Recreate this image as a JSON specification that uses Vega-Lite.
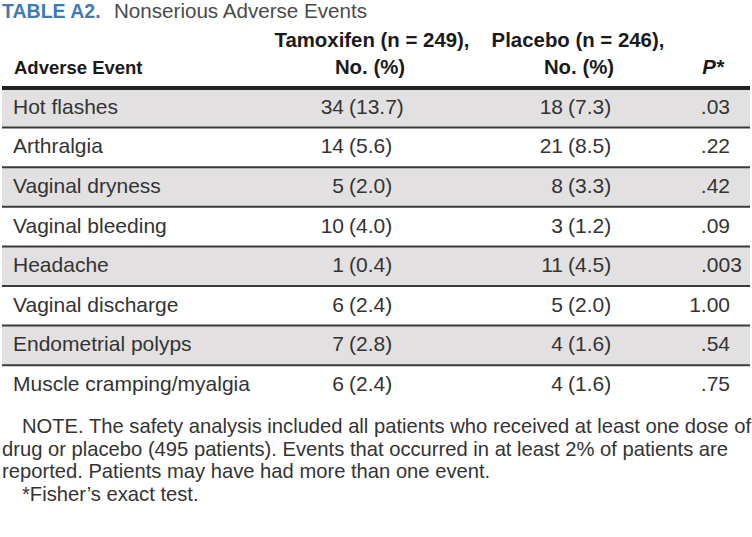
{
  "$schema": "https://vega.github.io/schema/vega-lite/v6.json",
  "width": 752,
  "height": 537,
  "padding": 0,
  "autosize": {"type": "fit", "contains": "padding"},
  "background": "white",
  "config": {"view": {"stroke": null}, "text": {"font": "Liberation Sans", "fontSize": 21, "color": "#333333", "baseline": "middle"}},
  "datasets": {
    "rows": [
      {"event": "Hot flashes", "tam_n": "34", "tam_pct": "(13.7)", "pla_n": "18", "pla_pct": "(7.3)", "p": ".03"},
      {"event": "Arthralgia", "tam_n": "14", "tam_pct": "(5.6)", "pla_n": "21", "pla_pct": "(8.5)", "p": ".22"},
      {"event": "Vaginal dryness", "tam_n": "5", "tam_pct": "(2.0)", "pla_n": "8", "pla_pct": "(3.3)", "p": ".42"},
      {"event": "Vaginal bleeding", "tam_n": "10", "tam_pct": "(4.0)", "pla_n": "3", "pla_pct": "(1.2)", "p": ".09"},
      {"event": "Headache", "tam_n": "1", "tam_pct": "(0.4)", "pla_n": "11", "pla_pct": "(4.5)", "p": ".003"},
      {"event": "Vaginal discharge", "tam_n": "6", "tam_pct": "(2.4)", "pla_n": "5", "pla_pct": "(2.0)", "p": "1.00"},
      {"event": "Endometrial polyps", "tam_n": "7", "tam_pct": "(2.8)", "pla_n": "4", "pla_pct": "(1.6)", "p": ".54"},
      {"event": "Muscle cramping/myalgia", "tam_n": "6", "tam_pct": "(2.4)", "pla_n": "4", "pla_pct": "(1.6)", "p": ".75"}
    ],
    "notes": [
      {"line": "note1", "text": "NOTE. The safety analysis included all patients who received at least one dose of"},
      {"line": "note2", "text": "drug or placebo (495 patients). Events that occurred in at least 2% of patients are"},
      {"line": "note3", "text": "reported. Patients may have had more than one event."},
      {"line": "note4", "text": "*Fisher’s exact test."}
    ]
  },
  "layer": [
    {
      "data": {"name": "rows"},
      "encoding": {
        "y": {"field": "event", "type": "nominal", "sort": null, "axis": null,
              "scale": {"type": "band", "domain": ["Hot flashes", "Arthralgia", "Vaginal dryness", "Vaginal bleeding", "Headache", "Vaginal discharge", "Endometrial polyps", "Muscle cramping/myalgia"], "range": [88, 404.8], "paddingInner": 0, "paddingOuter": 0}}
      },
      "layer": [
        {
          "transform": [{"filter": {"field": "event", "oneOf": ["Hot flashes", "Vaginal dryness", "Headache", "Endometrial polyps"]}}],
          "mark": {"type": "rect", "color": "#e2e0e1"}
        },
        {
          "transform": [{"filter": "datum.event !== 'Hot flashes'"}],
          "mark": {"type": "rule", "color": "#3a3a3a", "strokeWidth": 2},
          "encoding": {"y": {"field": "event", "type": "nominal", "bandPosition": 0}}
        },
        {
          "transform": [{"filter": "datum.event === 'Hot flashes'"}],
          "mark": {"type": "rule", "color": "#222222", "strokeWidth": 4},
          "encoding": {"y": {"field": "event", "type": "nominal", "bandPosition": 0}}
        },
        {
          "mark": {"type": "text", "align": "left", "x": 11},
          "encoding": {"y": {"field": "event", "type": "nominal", "bandPosition": 0.5}, "text": {"field": "event"}}
        },
        {
          "mark": {"type": "text", "align": "right", "x": 342},
          "encoding": {"y": {"field": "event", "type": "nominal", "bandPosition": 0.5}, "text": {"field": "tam_n"}}
        },
        {
          "mark": {"type": "text", "align": "left", "x": 347},
          "encoding": {"y": {"field": "event", "type": "nominal", "bandPosition": 0.5}, "text": {"field": "tam_pct"}}
        },
        {
          "mark": {"type": "text", "align": "right", "x": 561},
          "encoding": {"y": {"field": "event", "type": "nominal", "bandPosition": 0.5}, "text": {"field": "pla_n"}}
        },
        {
          "mark": {"type": "text", "align": "left", "x": 566},
          "encoding": {"y": {"field": "event", "type": "nominal", "bandPosition": 0.5}, "text": {"field": "pla_pct"}}
        },
        {
          "transform": [{"filter": "length(datum.p) - indexof(datum.p, '.') === 3"}],
          "mark": {"type": "text", "align": "right", "x": 728},
          "encoding": {"y": {"field": "event", "type": "nominal", "bandPosition": 0.5}, "text": {"field": "p"}}
        },
        {
          "transform": [{"filter": "length(datum.p) - indexof(datum.p, '.') !== 3"}],
          "mark": {"type": "text", "align": "left", "x": 699},
          "encoding": {"y": {"field": "event", "type": "nominal", "bandPosition": 0.5}, "text": {"field": "p"}}
        }
      ]
    },
    {
      "data": {"name": "notes"},
      "encoding": {
        "y": {"field": "line", "type": "nominal", "sort": null, "axis": null, "scale": {"type": "point", "domain": ["note1", "note2", "note3", "note4"], "range": [427, 494.5], "padding": 0}},
        "text": {"field": "text"}
      },
      "layer": [
        {
          "transform": [{"filter": "datum.line === 'note1' || datum.line === 'note4'"}],
          "mark": {"type": "text", "align": "left", "x": 20, "fontSize": 20.2}
        },
        {
          "transform": [{"filter": "datum.line === 'note2' || datum.line === 'note3'"}],
          "mark": {"type": "text", "align": "left", "x": 0, "fontSize": 20.2}
        }
      ]
    },
    {
      "data": {"values": [{"t": "TABLE A2."}]},
      "mark": {"type": "text", "align": "left", "x": 0, "y": 12, "fontWeight": "bold", "fontSize": 19.5, "color": "#3f7ab3"},
      "encoding": {"text": {"field": "t"}}
    },
    {
      "data": {"values": [{"t": "Nonserious Adverse Events"}]},
      "mark": {"type": "text", "align": "left", "x": 112, "y": 12, "fontSize": 20.6, "color": "#4a4a4a"},
      "encoding": {"text": {"field": "t"}}
    },
    {
      "data": {"values": [{"t": "Adverse Event"}]},
      "mark": {"type": "text", "align": "left", "x": 12, "y": 68, "fontWeight": "bold", "fontSize": 18.5, "color": "#1a1a1a"},
      "encoding": {"text": {"field": "t"}}
    },
    {
      "data": {"values": [{"t": "Tamoxifen (n = 249),"}]},
      "mark": {"type": "text", "align": "center", "x": 370, "y": 41, "fontWeight": "bold", "fontSize": 20.4, "color": "#1a1a1a"},
      "encoding": {"text": {"field": "t"}}
    },
    {
      "data": {"values": [{"t": "No. (%)"}]},
      "mark": {"type": "text", "align": "center", "x": 368, "y": 68, "fontWeight": "bold", "fontSize": 20.4, "color": "#1a1a1a"},
      "encoding": {"text": {"field": "t"}}
    },
    {
      "data": {"values": [{"t": "Placebo (n = 246),"}]},
      "mark": {"type": "text", "align": "center", "x": 576, "y": 41, "fontWeight": "bold", "fontSize": 20.4, "color": "#1a1a1a"},
      "encoding": {"text": {"field": "t"}}
    },
    {
      "data": {"values": [{"t": "No. (%)"}]},
      "mark": {"type": "text", "align": "center", "x": 577, "y": 68, "fontWeight": "bold", "fontSize": 20.4, "color": "#1a1a1a"},
      "encoding": {"text": {"field": "t"}}
    },
    {
      "data": {"values": [{"t": "P*"}]},
      "mark": {"type": "text", "align": "center", "x": 711, "y": 68, "fontWeight": "bold", "fontStyle": "italic", "fontSize": 20.4, "color": "#1a1a1a"},
      "encoding": {"text": {"field": "t"}}
    }
  ],
  "resolve": {"scale": {"y": "independent"}}
}
